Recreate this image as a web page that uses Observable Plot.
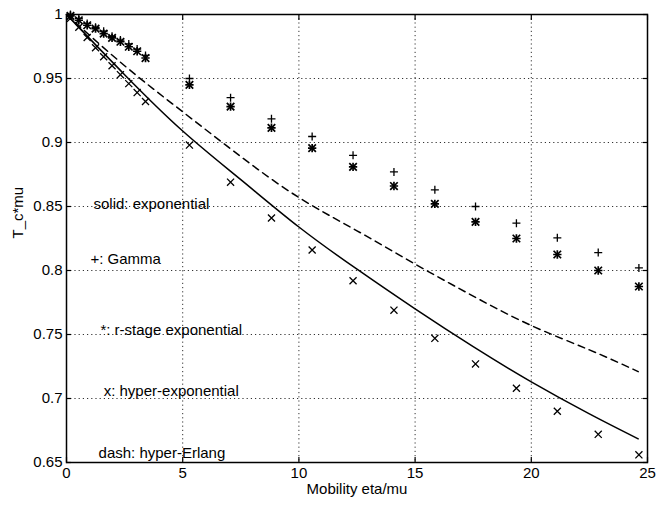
<!DOCTYPE html>
<html>
<head>
<meta charset="utf-8">
<script src="https://cdn.jsdelivr.net/npm/d3@7"></script>
<script src="https://cdn.jsdelivr.net/npm/@observablehq/plot@0.6"></script>
<style>
  html, body { margin: 0; padding: 0; background: #fff; }
</style>
</head>
<body>
<div id="chart"></div>
<script>
// ---- data ----
const xTicks = [0, 5, 10, 15, 20, 25];
const xTickLabels = ["0", "5", "10", "15", "20", "25"];
const yTicks = [0.65, 0.7, 0.75, 0.8, 0.85, 0.9, 0.95, 1];
const yTickLabels = ["0.65", "0.7", "0.75", "0.8", "0.85", "0.9", "0.95", "1"];

// simulation points (x positions shared by all marker series)
const ptX     = [0.17, 0.53, 0.89, 1.25, 1.6, 1.96, 2.32, 2.68, 3.04, 3.4,
                 5.29, 7.06, 8.82, 10.57, 12.33, 14.09, 15.85, 17.6, 19.36, 21.12, 22.88, 24.63];
const gammaY  = [1.0, 0.997, 0.993, 0.990, 0.987, 0.983, 0.980, 0.977, 0.973, 0.968,
                 0.950, 0.935, 0.9185, 0.9047, 0.890, 0.877, 0.863, 0.850, 0.837, 0.8255, 0.814, 0.802];
const rstageY = [0.999, 0.9955, 0.9916, 0.989, 0.985, 0.9818, 0.9787, 0.9748, 0.9713, 0.966,
                 0.945, 0.928, 0.9115, 0.8956, 0.881, 0.866, 0.852, 0.838, 0.825, 0.8125, 0.800, 0.7875];
const hyperY  = [0.997, 0.990, 0.982, 0.974, 0.967, 0.960, 0.953, 0.946, 0.939, 0.932,
                 0.898, 0.869, 0.841, 0.816, 0.792, 0.769, 0.747, 0.727, 0.708, 0.690, 0.672, 0.656];

// analytic curves
const curveX  = [0, 2.5, 5, 7.5, 10, 12.5, 15, 17.5, 20, 22.5, 24.6];
const expY    = [1.0, 0.953, 0.909, 0.871, 0.834, 0.801, 0.770, 0.7405, 0.713, 0.688, 0.6685];
const herlY   = [1.0, 0.960, 0.924, 0.889, 0.857, 0.831, 0.805, 0.780, 0.757, 0.738, 0.721];

// in-plot annotations (data coordinates)
const noteText = ["solid: exponential", "+: Gamma", "*: r-stage exponential", "x: hyper-exponential", "dash: hyper-Erlang"];
const noteX    = [1.16, 1.03, 1.46, 1.6, 1.38];
const noteY    = [0.8515, 0.8085, 0.7535, 0.7055, 0.6575];

const xLabel = "Mobility eta/mu";
const yLabel = "T_c*mu";

// ---- build tables ----
const pts = ptX.map((x, i) => ({x, gamma: gammaY[i], rstage: rstageY[i], hyper: hyperY[i]}));
const expData = curveX.map((x, i) => ({x, y: expY[i]}));
const herlData = curveX.map((x, i) => ({x, y: herlY[i]}));
const notes = noteText.map((t, i) => ({t, x: noteX[i], y: noteY[i]}));

const FONT = "'Liberation Sans', Arial, Helvetica, sans-serif";
const fmtX = d => xTickLabels[xTicks.indexOf(d)];
const fmtY = d => yTickLabels[yTicks.indexOf(d)];

const chart = Plot.plot({
  width: 668,
  height: 508,
  marginLeft: 66,
  marginRight: 21,
  marginTop: 14,
  marginBottom: 46,
  style: {fontFamily: FONT, fontSize: "15px", color: "black", background: "white", overflow: "visible"},
  x: {domain: [0, 25], ticks: xTicks},
  y: {domain: [0.65, 1], ticks: yTicks},
  marks: [
    Plot.gridX(xTicks, {stroke: "#333", strokeOpacity: 1, strokeWidth: 1, strokeDasharray: "1.2,3"}),
    Plot.gridY(yTicks, {stroke: "#333", strokeOpacity: 1, strokeWidth: 1, strokeDasharray: "1.2,3"}),
    Plot.line(expData, {x: "x", y: "y", curve: "natural", stroke: "black", strokeWidth: 1.5}),
    Plot.line(herlData, {x: "x", y: "y", curve: "natural", stroke: "black", strokeWidth: 1.5, strokeDasharray: "7,5"}),
    Plot.dot(pts, {x: "x", y: "gamma", symbol: "plus", r: 2.7, stroke: "black", strokeWidth: 1.3}),
    Plot.dot(pts, {x: "x", y: "rstage", symbol: "plus", r: 2.8, stroke: "black", strokeWidth: 1.7}),
    Plot.dot(pts, {x: "x", y: "rstage", symbol: "times", r: 3.5, stroke: "black", strokeWidth: 1.7}),
    Plot.dot(pts, {x: "x", y: "hyper", symbol: "times", r: 3.3, stroke: "black", strokeWidth: 1.3}),
    Plot.text(notes, {x: "x", y: "y", text: "t", textAnchor: "start", fill: "black", fontSize: 15}),
    Plot.frame({stroke: "black", strokeWidth: 1.5}),
    // inward ticks on all four sides
    Plot.axisX(xTicks, {anchor: "bottom", tickSize: 5, dy: -5, text: null, label: null, strokeWidth: 1.2}),
    Plot.axisX(xTicks, {anchor: "top", tickSize: 5, dy: 5, text: null, label: null, strokeWidth: 1.2}),
    Plot.axisY(yTicks, {anchor: "left", tickSize: 5, dx: 5, text: null, label: null, strokeWidth: 1.2}),
    Plot.axisY(yTicks, {anchor: "right", tickSize: 5, dx: -5, text: null, label: null, strokeWidth: 1.2}),
    // tick labels
    Plot.axisX(xTicks, {anchor: "bottom", tickSize: 0, tickPadding: 5, tickFormat: fmtX, label: null, fontSize: 15}),
    Plot.axisY(yTicks, {anchor: "left", tickSize: 0, tickPadding: 4, tickFormat: fmtY, label: null, fontSize: 15}),
    // axis titles
    Plot.text([xLabel], {frameAnchor: "bottom", dy: 31, text: d => d, fontSize: 15, fill: "black"}),
    Plot.text([yLabel], {frameAnchor: "left", dx: -48, rotate: -90, text: d => d, fontSize: 15, fill: "black"})
  ]
});

document.getElementById("chart").appendChild(chart);
</script>
</body>
</html>
